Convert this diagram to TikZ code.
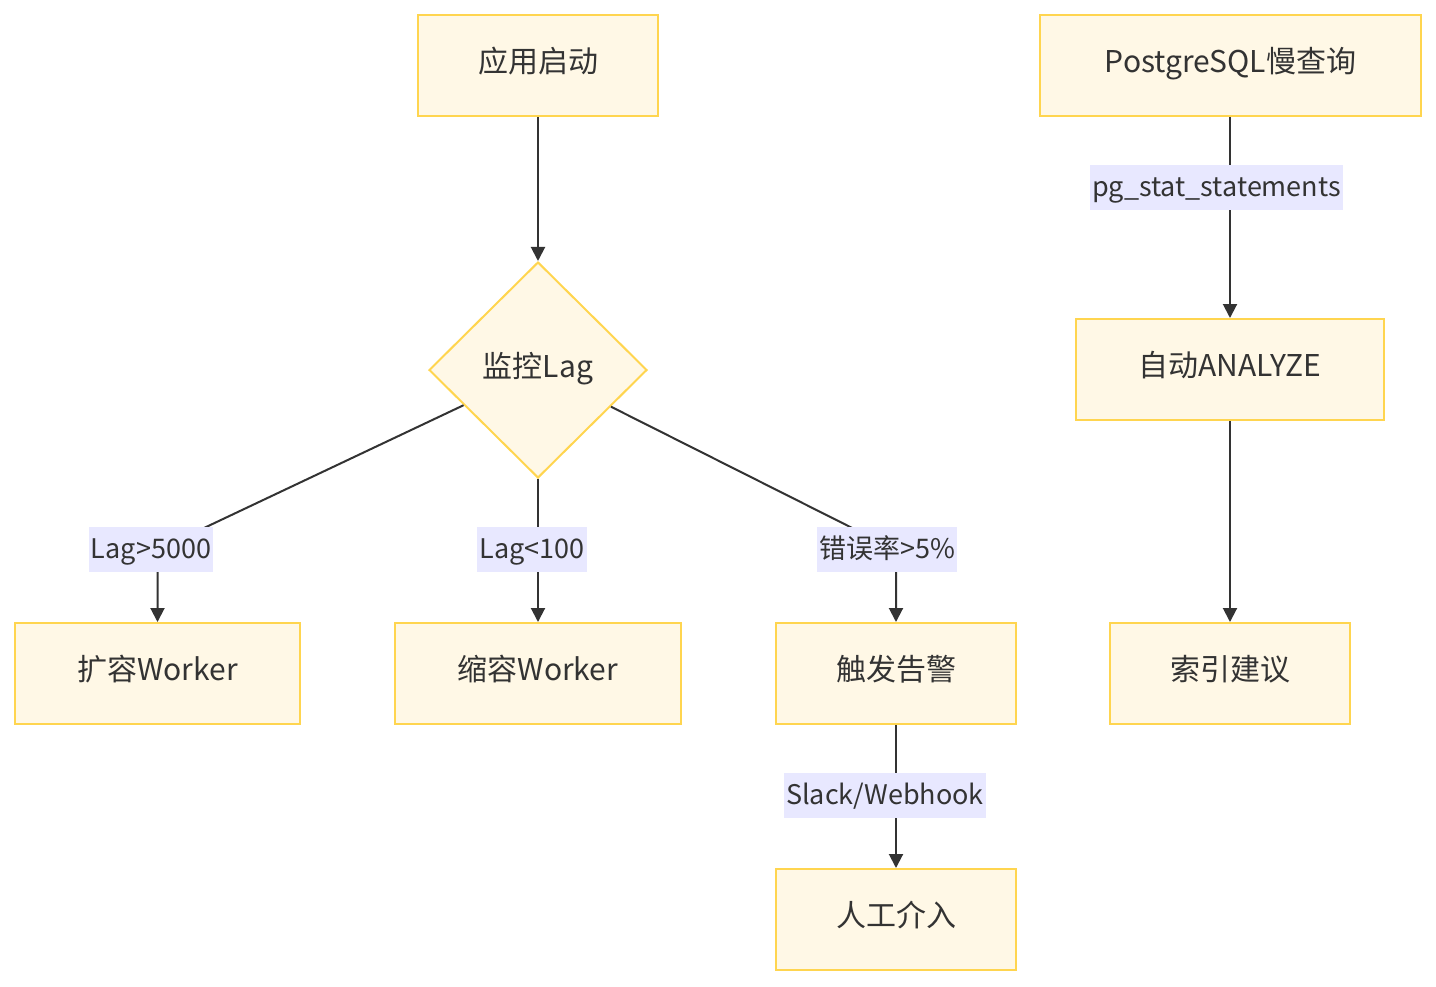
\documentclass[tikz,border=0pt]{standalone}
\usepackage{fontspec}
\setmainfont{Noto Sans CJK SC}
\usetikzlibrary{shapes.geometric,arrows.meta}

\definecolor{boxfill}{HTML}{FFF8E6}
\definecolor{boxline}{HTML}{FFD54F}
\definecolor{lblfill}{HTML}{E8E8FF}
\definecolor{ink}{HTML}{333333}

\tikzset{
	flowbox/.style={draw=boxline, fill=boxfill, line width=1pt, minimum height=50.5pt, inner sep=0pt, text=ink, text height=0.88em, text depth=0.18em, font=\fontsize{15}{18}\selectfont},
	decide/.style={diamond, draw=boxline, fill=boxfill, line width=1pt, inner sep=0pt, minimum width=109pt, minimum height=108pt, text=ink, text height=0.88em, text depth=0.18em, font=\fontsize{15}{18}\selectfont},
	edgelbl/.style={fill=lblfill, text=ink, inner xsep=1pt, inner ysep=0pt, minimum height=22.5pt, text height=1em, text depth=0.08em, font=\fontsize{13.5}{16}\selectfont},
	flow/.style={draw=ink, line width=1pt, -{Triangle[length=7pt,width=7pt]}}
}

\begin{document}
\begin{tikzpicture}[x=0.5pt, y=-0.5pt]
	\useasboundingbox (0,0) rectangle (1436,986);

	% left: worker flow
	\node[flowbox, minimum width=120pt] (start) at (538,65.5) {应用启动};
	\node[decide] (lagchk) at (538,370) {监控Lag};
	\node[flowbox, minimum width=142.5pt] (scaleup) at (157.5,673.5) {扩容Worker};
	\node[flowbox, minimum width=143pt] (scaledown) at (538,673.5) {缩容Worker};
	\node[flowbox, minimum width=120pt] (alert) at (896,673.5) {触发告警};
	\node[flowbox, minimum width=120pt] (manual) at (896,919.5) {人工介入};

	% right: postgres flow
	\node[flowbox, minimum width=190.5pt] (slowq) at (1230.5,65.5) {PostgreSQL慢查询};
	\node[flowbox, minimum width=154pt] (analyze) at (1230,369.5) {自动ANALYZE};
	\node[flowbox, minimum width=120pt] (idxhint) at (1230,673.5) {索引建议};

	\coordinate (bendup) at (157.5,550);
	\coordinate (bendalert) at (896,550);

	\draw[flow] (start) -- (lagchk);
	\draw[flow] (lagchk) -- (bendup) -- (scaleup);
	\draw[flow] (lagchk) -- (scaledown);
	\draw[flow] (lagchk) -- (bendalert) -- (alert);
	\draw[flow] (alert) -- (manual);
	\draw[flow] (slowq.south -| analyze) -- (analyze);
	\draw[flow] (analyze) -- (idxhint);

	\node[edgelbl] (lblup) at (151,549) {Lag>5000};
	\node[edgelbl] (lbldown) at (532,549) {Lag<100};
	\node[edgelbl] (lblerr) at (887,549) {错误率>5\%};
	\node[edgelbl] (lblhook) at (885,795) {Slack/Webhook};
	\node[edgelbl] (lblpg) at (1216.5,187) {pg\_stat\_statements};
\end{tikzpicture}
\end{document}
